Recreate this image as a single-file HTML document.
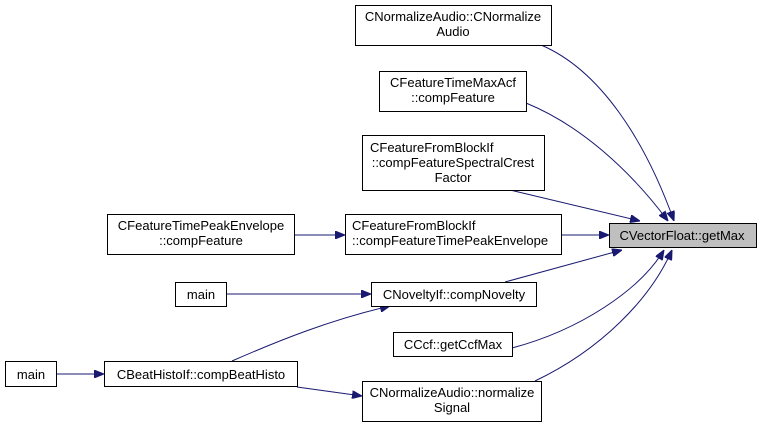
<!DOCTYPE html>
<html><head><meta charset="utf-8"><style>body{margin:0;background:#fff}svg{display:block}text{font-family:"Liberation Sans",Arial,sans-serif;font-size:13px;fill:#000}</style></head>
<body>
<svg width="761" height="429" viewBox="0 0 761 429" xmlns="http://www.w3.org/2000/svg">
<defs><marker id="a" markerWidth="10" markerHeight="8" refX="10" refY="4" orient="auto" markerUnits="userSpaceOnUse"><path d="M0,0 L10,4 L0,8 z" fill="#191970" stroke="#191970"/></marker></defs>
<g fill="none" stroke="#191970" stroke-width="1" marker-end="url(#a)">
<path d="M541,45 C600,70 645,140 674,221"/>
<path d="M526,103 C580,125 630,170 668,221"/>
<path d="M510,190 L640,221"/>
<path d="M561,235 L609,235"/>
<path d="M505,282 L622,250"/>
<path d="M512,348 C580,330 640,290 664,250"/>
<path d="M535,381 C600,350 650,300 672,250"/>
<path d="M294,235 L345,235"/>
<path d="M226,294 L371,294"/>
<path d="M232,361 C280,340 330,320 390,306"/>
<path d="M56,374 L104,374"/>
<path d="M297,387 L362,396"/>
</g>
<g stroke="#000" stroke-width="1" fill="#fff">
<rect x="355.5" y="5.5" width="196" height="40"/>
<rect x="379.5" y="71.5" width="147" height="40"/>
<rect x="362.5" y="135.5" width="182" height="55"/>
<rect x="345.5" y="214.5" width="216" height="40"/>
<rect x="609.5" y="223.5" width="147" height="24" fill="#bfbfbf"/>
<rect x="107.5" y="214.5" width="187" height="40"/>
<rect x="175.5" y="282.5" width="51" height="24"/>
<rect x="371.5" y="282.5" width="165" height="24"/>
<rect x="393.5" y="332.5" width="119" height="24"/>
<rect x="5.5" y="361.5" width="51" height="25"/>
<rect x="104.5" y="361.5" width="193" height="25"/>
<rect x="362.5" y="381.5" width="179" height="40"/>
</g>
<g text-anchor="middle">
<text x="453" y="21">CNormalizeAudio::CNormalize</text><text x="453" y="36">Audio</text>
<text x="453" y="87">CFeatureTimeMaxAcf</text><text x="453" y="102">::compFeature</text>
<text x="453" y="167">::compFeatureSpectralCrest</text><text x="453" y="182">Factor</text>
<text x="682" y="240">CVectorFloat::getMax</text>
<text x="201" y="230">CFeatureTimePeakEnvelope</text><text x="201" y="245">::compFeature</text>
<text x="201" y="299">main</text>
<text x="454" y="299">CNoveltyIf::compNovelty</text>
<text x="453" y="349">CCcf::getCcfMax</text>
<text x="31" y="379">main</text>
<text x="201" y="379">CBeatHistoIf::compBeatHisto</text>
<text x="452" y="397">CNormalizeAudio::normalize</text><text x="452" y="412">Signal</text>
</g>
<text x="370" y="152">CFeatureFromBlockIf</text>
<text x="352" y="230">CFeatureFromBlockIf</text><text x="352" y="245">::compFeatureTimePeakEnvelope</text>
</svg>
</body></html>
